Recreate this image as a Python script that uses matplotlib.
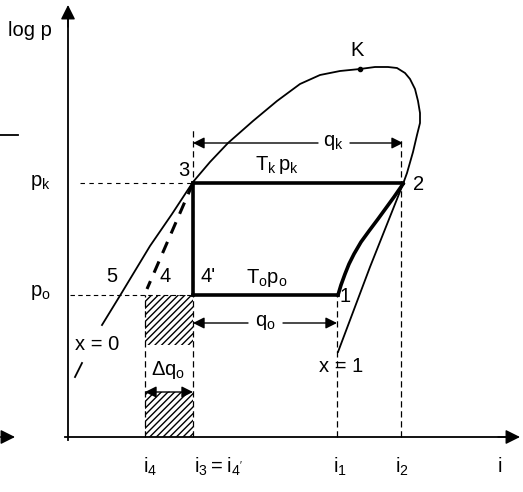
import numpy as np
from matplotlib import pyplot as plt
from matplotlib.patches import Rectangle

plt.rcParams['font.family'] = ['Liberation Sans', 'DejaVu Sans']
plt.rcParams['mathtext.default'] = 'regular'

# enthalpy (i) / log p levels, in diagram units
i4, i3, i1, i2 = 77, 125, 269, 333
p_o, p_k = 142, 254

# saturation curve (x = 0 branch -> K -> x = 1 branch)
sat_i = [34, 53, 82, 104, 125, 142, 160, 185, 209, 232, 252, 272, 292, 307, 320, 329,
         337, 342, 347, 350, 352, 352, 349, 345, 339, 335, 302, 270]
sat_p = [112, 143, 191, 223, 255, 275, 294, 316, 336, 353, 362, 366, 368, 370, 370, 369,
         364, 358, 348, 336, 324, 314, 302, 285, 264, 253, 170, 85]

# compression 1 -> 2
comp_i = [270, 273, 277, 281, 286, 293, 301, 310, 318, 326, 335]
comp_p = [142, 152, 163, 173, 183, 195, 206, 218, 229, 240, 253]

# throttling 3 -> 4 (dashed)
thr_i = [125, 79]
thr_p = [254, 148]

crit = (292, 368)

tick_labels = ['$i_4$', "$i_3 = i_{4'}$", '$i_1$', '$i_2$']
tick_pos = [82, 150, 272, 334]


def arrow(ax, x0, x1, y):
    ax.annotate('', xy=(x1, y), xytext=(x0, y),
                arrowprops=dict(arrowstyle='-|>', color='black', lw=1,
                                mutation_scale=17, shrinkA=0, shrinkB=0))


def main():
    fig = plt.figure(figsize=(5.23, 4.92), dpi=100)
    ax = fig.add_axes([0, 0, 1, 1])
    ax.set_xlim(-68, 455)
    ax.set_ylim(-55, 437)
    ax.axis('off')
    fs = 14.5

    # axes with arrows
    ax.plot([-3, 440], [0, 0], color='black', lw=1.3)
    ax.plot([0, 0], [-3, 420], color='black', lw=1.3)
    ax.annotate('', xy=(452, 0), xytext=(430, 0),
                arrowprops=dict(arrowstyle='-|>', color='black', lw=1, mutation_scale=22,
                                shrinkA=0, shrinkB=0))
    ax.annotate('', xy=(0, 432), xytext=(0, 410),
                arrowprops=dict(arrowstyle='-|>', color='black', lw=1, mutation_scale=22,
                                shrinkA=0, shrinkB=0))
    # stray marks on the left edge
    ax.annotate('', xy=(-53, 0), xytext=(-68, 0),
                arrowprops=dict(arrowstyle='-|>', color='black', lw=1, mutation_scale=22,
                                shrinkA=0, shrinkB=0))
    ax.plot([-68, -50], [302, 302], color='black', lw=1.3)

    # saturation curve
    ax.plot(sat_i, sat_p, color='black', lw=1.3, solid_joinstyle='round')
    ax.plot(*crit, marker='o', ms=3, color='black')
    ax.plot([7, 14], [60, 74], color='black', lw=1.3)

    # cycle
    ax.plot([i3, 335], [p_k, p_k], color='black', lw=2.6)
    ax.plot([i3, i3], [p_k, p_o], color='black', lw=2.6)
    ax.plot([i3, 270], [p_o, p_o], color='black', lw=2.6)
    ax.plot(comp_i, comp_p, color='black', lw=2.6, solid_joinstyle='round')
    ax.plot(thr_i, thr_p, color='black', lw=2.2, ls=(0, (4, 3)))

    # guide lines
    ax.plot([12, i3], [p_k, p_k], color='black', lw=0.8, ls=(0, (4, 4)))
    ax.plot([2, i3], [p_o, p_o], color='black', lw=0.8, ls=(0, (4, 3)))
    ax.plot([i3, i3], [0, 307], color='black', lw=0.9, ls=(0, (5, 3)))
    ax.plot([i2, i2], [0, 300], color='black', lw=0.9, ls=(0, (5, 3)))
    ax.plot([i1, i1], [0, p_o], color='black', lw=0.9, ls=(0, (5, 3)))
    ax.plot([i4, i4], [0, p_o], color='black', lw=0.9, ls=(0, (5, 3)))

    # hatched areas
    for y0, h in [(92, 50), (0, 45)]:
        ax.add_patch(Rectangle((i4, y0), i3 - i4, h, fill=False, hatch='/////',
                               lw=0, color='black'))

    # heat arrows
    arrow(ax, 250, i3, 294)
    arrow(ax, 282, 335, 294)
    ax.text(265, 294, '$q_k$', fontsize=fs, ha='center', va='center')
    arrow(ax, 180, i3, 114)
    arrow(ax, 215, i1, 114)
    ax.text(197, 114, '$q_o$', fontsize=fs, ha='center', va='center')
    arrow(ax, 101, i4, 45)
    arrow(ax, 101, i3, 45)
    ax.text(100, 67, r'$\Delta q_o$', fontsize=fs, ha='center', va='center')

    # labels
    ax.text(-38, 407, 'log p', fontsize=fs, ha='center', va='center')
    ax.text(-28, 255, '$p_k$', fontsize=fs, ha='center', va='center')
    ax.text(-28, 145, '$p_o$', fontsize=fs, ha='center', va='center')
    ax.text(116, 267, '3', fontsize=fs, ha='center', va='center')
    ax.text(351, 252, '2', fontsize=fs, ha='center', va='center')
    ax.text(289, 387, 'K', fontsize=fs, ha='center', va='center')
    ax.text(44, 160, '5', fontsize=fs, ha='center', va='center')
    ax.text(97, 160, '4', fontsize=fs, ha='center', va='center')
    ax.text(140, 160, "4'", fontsize=fs, ha='center', va='center')
    ax.text(277, 140, '1', fontsize=fs, ha='center', va='center')
    ax.text(29, 92, 'x = 0', fontsize=fs, ha='center', va='center')
    ax.text(273, 70, 'x = 1', fontsize=fs, ha='center', va='center')
    ax.text(209, 272, '$T_k\\,p_k$', fontsize=fs, ha='center', va='center')
    ax.text(199, 159, '$T_o p_o$', fontsize=fs, ha='center', va='center')
    for pos, lab in zip(tick_pos, tick_labels):
        ax.text(pos, -30, lab, fontsize=fs, ha='center', va='center')
    ax.text(432, -30, 'i', fontsize=fs, ha='center', va='center')

    fig.savefig('out.png', dpi=100)


if __name__ == "__main__":
    main()
